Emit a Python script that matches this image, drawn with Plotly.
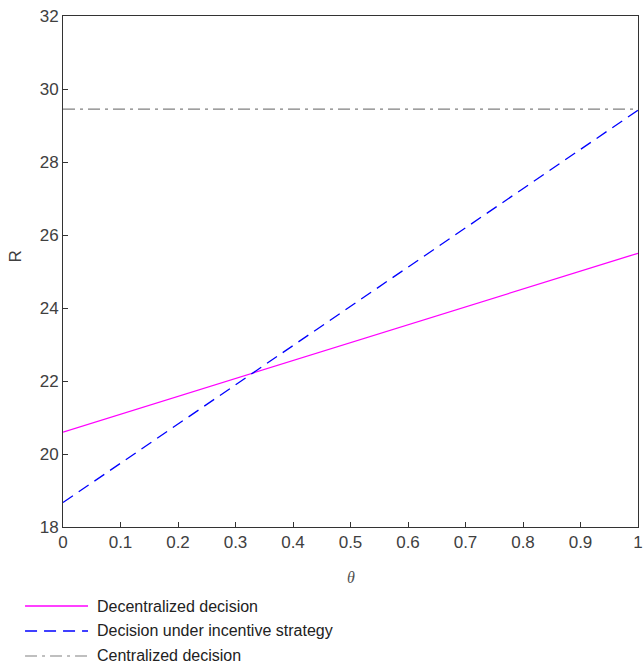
import plotly.graph_objects as go

theta = [0.0, 1.0]
decentralized = [20.6, 25.5]
incentive = [18.67, 29.42]
centralized = [29.45, 29.45]

series_names = ["Decentralized decision", "Decision under incentive strategy", "Centralized decision"]
series_colors = ["#FF00FF", "#0000FF", "#808080"]
series_dash = ["solid", "12px,7px", "12px,5px,3px,5px"]
series_width = [1.3, 1.3, 1.2]

x_ticks = [0, 0.1, 0.2, 0.3, 0.4, 0.5, 0.6, 0.7, 0.8, 0.9, 1]
x_labels = ["0", "0.1", "0.2", "0.3", "0.4", "0.5", "0.6", "0.7", "0.8", "0.9", "1"]
y_ticks = [18, 20, 22, 24, 26, 28, 30, 32]

fig = go.Figure()
for name, ys, col, dsh, w in zip(series_names, [decentralized, incentive, centralized],
                                 series_colors, series_dash, series_width):
    fig.add_trace(go.Scatter(x=theta, y=ys, mode="lines", name=name,
                             line=dict(color=col, width=w, dash=dsh), showlegend=False))

tick_font = dict(family="Liberation Sans, Arial", size=17, color="#404040")
axis_common = dict(showgrid=False, zeroline=False, showline=True, linecolor="#333333", linewidth=1,
                   mirror=True, ticks="inside", ticklen=5, tickcolor="#333333",
                   tickfont=tick_font, automargin=False, ticklabeloverflow="allow")

fig.update_xaxes(range=[0, 1], tickvals=x_ticks, ticktext=x_labels, **axis_common)
fig.update_yaxes(range=[18, 32], tickvals=y_ticks, **axis_common)

# axis titles
fig.add_annotation(x=0.5, y=-0.098, xref="paper", yref="paper", text="<i>θ</i>", showarrow=False,
                   font=dict(family="Liberation Serif", size=16, color="#505050"), yanchor="middle")
fig.add_annotation(x=-0.083, y=0.53, xref="paper", yref="paper", text="R", showarrow=False, textangle=-90,
                   font=dict(family="Liberation Sans, Arial", size=17, color="#404040"), xanchor="center")

# legend (manual, below the plot)
row_y = [-0.1546, -0.2035, -0.2524]
for name, col, dsh, w, yy in zip(series_names, series_colors, series_dash, series_width, row_y):
    fig.add_shape(type="line", xref="paper", yref="paper", x0=-0.066, x1=0.0435, y0=yy, y1=yy,
                  line=dict(color=col, width=w, dash=dsh))
    fig.add_annotation(x=0.055, y=yy, xref="paper", yref="paper", text=name, showarrow=False,
                       xanchor="left", yanchor="middle",
                       font=dict(family="Liberation Sans, Arial", size=16, color="#222222"))

fig.update_layout(
    width=643, height=666,
    margin=dict(l=63, r=5, t=16, b=139),
    plot_bgcolor="white", paper_bgcolor="white",
    showlegend=False,
)

fig.write_html("out.html", config={"displayModeBar": False},
               post_script="document.body.style.margin='0px';document.body.style.overflow='hidden';")
